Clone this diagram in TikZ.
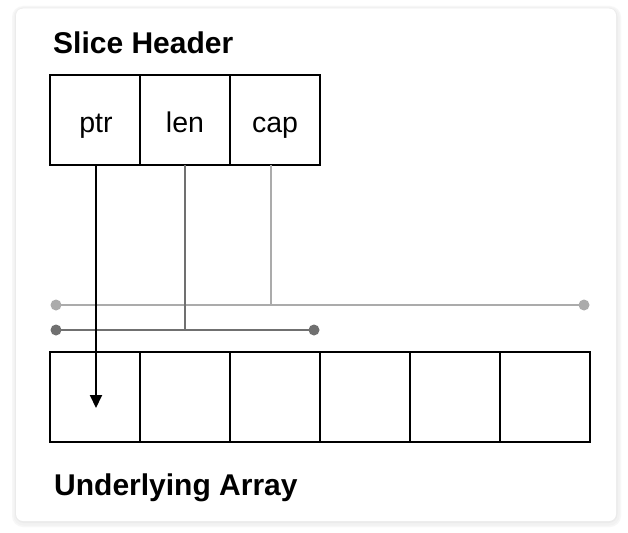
\documentclass[tikz,border=0pt]{standalone}
\usepackage{fontspec}
\setmainfont{Liberation Sans}
\usetikzlibrary{arrows.meta}
\begin{document}
\begin{tikzpicture}[x=1pt,y=-1pt,
  cellbox/.style={draw=black,line width=2pt,minimum width=90pt,minimum height=90pt,inner sep=0pt,outer sep=0pt,anchor=north west},
  title/.style={font=\fontsize{30}{36}\selectfont\bfseries,anchor=base west,inner sep=0pt},
  lbl/.style={font=\fontsize{28.5}{34}\selectfont,anchor=base,inner sep=0pt},
  dot/.style={circle,fill=#1,inner sep=0pt,minimum size=11pt},
  lenclr/.style={draw=lencol,line width=2pt},
  capclr/.style={draw=capcol,line width=2pt}]
\definecolor{lencol}{HTML}{707070}
\definecolor{capcol}{HTML}{ABABAB}
\useasboundingbox (0,0) rectangle (628,532);
\fill[white] (0,0) rectangle (628,532);
% card shadow and card
\fill[black!3,rounded corners=11pt] (12,6) rectangle (621,527);
\fill[black!5,rounded corners=10pt] (13.5,7) rectangle (619.5,525.5);
\fill[black!8,rounded corners=9pt] (15,7.8) rectangle (617.5,523);
\fill[white,rounded corners=7pt] (16,8.5) rectangle (616,521);
% titles
\node[title] (t1) at (53,54) {Slice Header};
\node[title] (t2) at (54,495) {Underlying Array};
% header cells
\node[cellbox] (ptr) at (50,75) {};
\node[cellbox] (len) at (140,75) {};
\node[cellbox] (cap) at (230,75) {};
\node[lbl] at (96,132) {ptr};
\node[lbl] at (185,132) {len};
\node[lbl] at (275,132) {cap};
% array cells
\foreach \i in {0,...,5}{
  \node[cellbox] (a\i) at (50+90*\i,352) {};
}
% range lines
\node[dot=capcol] (c1) at (56,305) {};
\node[dot=capcol] (c2) at (584,305) {};
\draw[capclr] (c1.center) -- (c2.center);
\node[dot=lencol] (l1) at (56,330) {};
\node[dot=lencol] (l2) at (314,330) {};
\draw[lenclr] (l1.center) -- (l2.center);
\coordinate (capj) at (271,305);
\coordinate (lenj) at (185,330);
\coordinate (ptrj) at (96,408);
\draw[capclr] (cap.south -| capj) -- (capj);
\draw[lenclr] (len.south -| lenj) -- (lenj);
\draw[line width=2pt,-{Triangle[length=13pt,width=12pt]}] (ptr.south -| ptrj) -- (ptrj);
\end{tikzpicture}
\end{document}
